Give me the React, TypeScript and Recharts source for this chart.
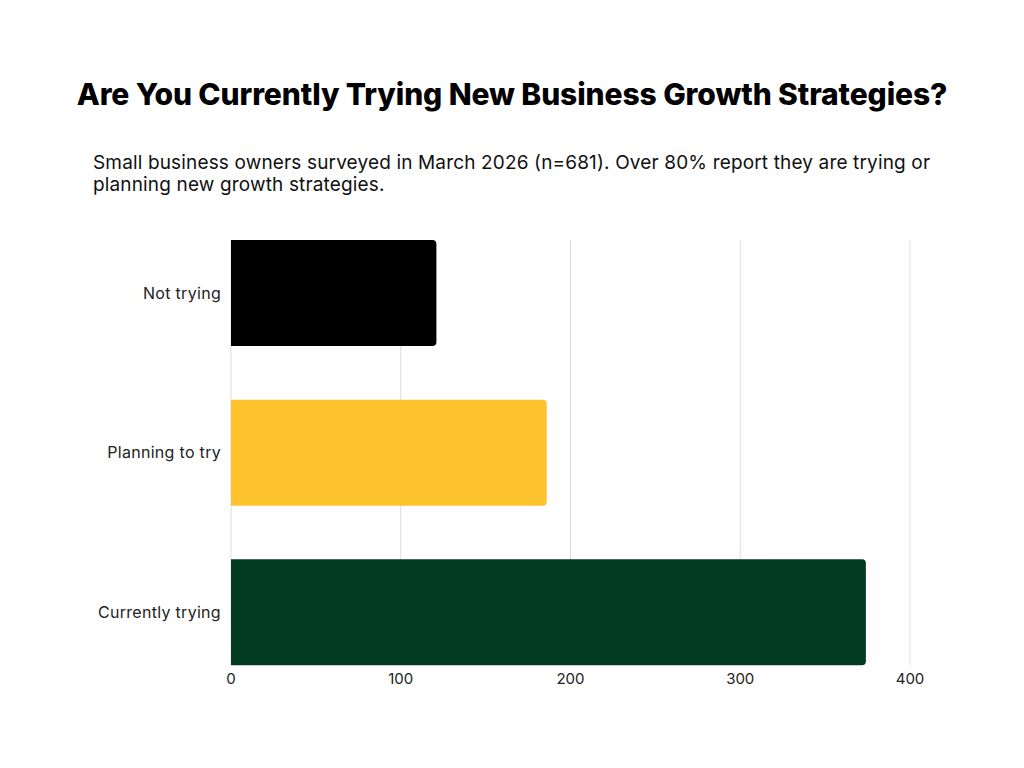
import { BarChart, Bar, XAxis, YAxis, CartesianGrid, Cell } from 'recharts';

const categories = ['Not trying', 'Planning to try', 'Currently trying'];
const counts = [121, 186, 374];
const barColors = ['#000000', '#FFC22F', '#023B1F'];
const xTicks = [0, 100, 200, 300, 400];

const data = categories.map((name, i) => ({ name, count: counts[i] }));

const font = 'Inter, "Noto Sans", sans-serif';

export default function App() {
  return (
    <div style={{ position: 'absolute', left: 0, top: 0, width: 1024, height: 768, background: '#fff', fontFamily: font }}>
      <div
        style={{
          position: 'absolute',
          top: 76,
          left: 0,
          width: 1024,
          textAlign: 'center',
          fontSize: 30,
          fontWeight: 800,
          color: '#000',
          letterSpacing: -0.1,
        }}
      >
        Are You Currently Trying New Business Growth Strategies?
      </div>
      <div
        style={{
          position: 'absolute',
          top: 152,
          left: 93,
          width: 860,
          fontSize: 19,
          lineHeight: '22px',
          letterSpacing: 0.15,
          color: '#111',
        }}
      >
        Small business owners surveyed in March 2026 (n=681). Over 80% report they are trying or planning new growth strategies.
      </div>
      <div style={{ position: 'absolute', left: 0, top: 0 }}>
        <BarChart
          width={1024}
          height={768}
          data={data}
          layout="vertical"
          margin={{ top: 240, right: 114, bottom: 73, left: 31 }}
          barSize={106}
        >
          <CartesianGrid horizontal={false} stroke="#dddddd" />
          <XAxis
            type="number"
            domain={[0, 400]}
            ticks={xTicks}
            axisLine={false}
            tickLine={false}
            tick={{ fill: '#222', fontSize: 15, fontFamily: font }}
          />
          <YAxis
            type="category"
            dataKey="name"
            width={200}
            axisLine={false}
            tickLine={false}
            tickMargin={4}
            padding={{ top: -27, bottom: -27 }}
            tick={{ fill: '#222', fontSize: 16, fontFamily: font, letterSpacing: 0.3 }}
          />
          <Bar dataKey="count" radius={[0, 4, 4, 0]} isAnimationActive={false}>
            {data.map((d, i) => (
              <Cell key={d.name} fill={barColors[i]} />
            ))}
          </Bar>
        </BarChart>
      </div>
    </div>
  );
}
